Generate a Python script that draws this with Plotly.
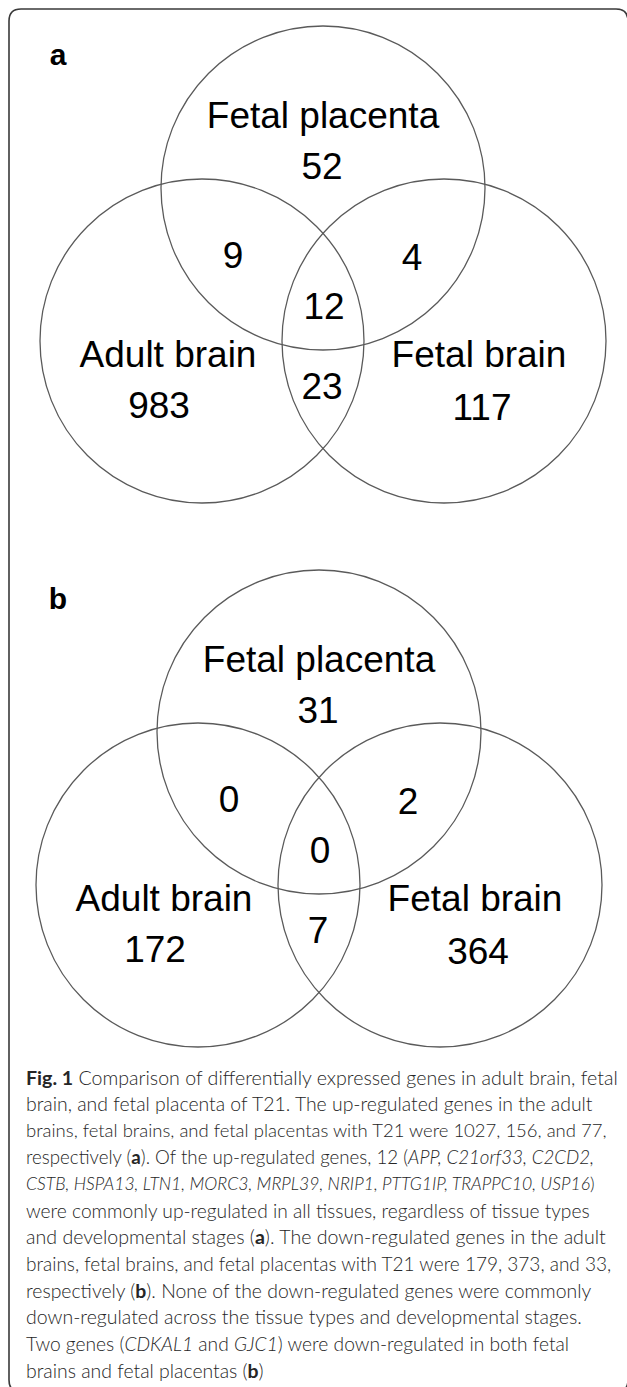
import plotly.graph_objects as go

# ---------------- data ----------------
set_labels = ["Fetal placenta", "Adult brain", "Fetal brain"]
region_names = ["placenta_only", "placenta_adult", "placenta_fetal", "all_three",
                "adult_only", "adult_fetal", "fetal_only"]
up_counts = [52, 9, 4, 12, 983, 23, 117]        # panel a
down_counts = [31, 0, 2, 0, 172, 7, 364]        # panel b
panel_letters = ["a", "b"]

caption_lines = [
    "<b>Fig. 1</b> Comparison of differentially expressed genes in adult brain, fetal",
    "brain, and fetal placenta of T21. The up-regulated genes in the adult",
    "brains, fetal brains, and fetal placentas with T21 were 1027, 156, and 77,",
    "respectively (<b>a</b>). Of the up-regulated genes, 12 (<i>APP, C21orf33, C2CD2,</i>",
    "<i>CSTB, HSPA13, LTN1, MORC3, MRPL39, NRIP1, PTTG1IP, TRAPPC10, USP16</i>)",
    "were commonly up-regulated in all tissues, regardless of tissue types",
    "and developmental stages (<b>a</b>). The down-regulated genes in the adult",
    "brains, fetal brains, and fetal placentas with T21 were 179, 373, and 33,",
    "respectively (<b>b</b>). None of the down-regulated genes were commonly",
    "down-regulated across the tissue types and developmental stages.",
    "Two genes (<i>CDKAL1</i> and <i>GJC1</i>) were down-regulated in both fetal",
    "brains and fetal placentas (<b>b</b>)",
]

# ---------------- styling / layout (pixel space) ----------------
caption_sizes = [19.6, 19.4, 18.5, 18.7, 17.6, 19.2, 19.6, 19.0, 19.4, 19.5, 19.2, 19.4]
W, H = 627, 1387
R = 162
circle_centers = [(323, 188), (202, 341), (444, 341)]   # placenta, adult, fetal (panel a)
label_pos = [(323, 119), (168, 358), (479, 358)]
count_pos = [(322, 170), (233, 259), (412, 261), (324, 310),
             (159, 409), (322, 390), (482, 411)]
letter_pos = (58, 57)
panel_offsets = [(0, 0), (-4, 544)]

fig = go.Figure()
shapes = []

# frame
fl, ft, fr, fb, cr = 9, 9, 628, 1392, 12
frame_path = (f"M {fl},{ft+cr} Q {fl},{ft} {fl+cr},{ft} L {fr-cr},{ft} "
              f"Q {fr},{ft} {fr},{ft+cr} L {fr},{fb-cr} Q {fr},{fb} {fr-cr},{fb} "
              f"L {fl+cr},{fb} Q {fl},{fb} {fl},{fb-cr} Z")
shapes.append(dict(type="path", path=frame_path, xref="x", yref="y",
                   line=dict(color="#3a3a3a", width=1.6), layer="below"))

for p, (dx, dy) in enumerate(panel_offsets):
    counts = up_counts if p == 0 else down_counts
    for (cx, cy) in circle_centers:
        shapes.append(dict(type="circle", xref="x", yref="y",
                           x0=cx + dx - R, x1=cx + dx + R,
                           y0=cy + dy - R, y1=cy + dy + R,
                           line=dict(color="#5a5a5a", width=1.3)))
    fig.add_trace(go.Scatter(
        x=[x + dx for x, _ in label_pos], y=[y + dy for _, y in label_pos],
        text=set_labels, mode="text", textposition="middle center",
        textfont=dict(family="Liberation Sans, Arial", size=37, color="black"),
        hoverinfo="skip"))
    fig.add_trace(go.Scatter(
        x=[x + dx for x, _ in count_pos], y=[y + dy for _, y in count_pos],
        text=[str(c) for c in counts], mode="text", textposition="middle center",
        textfont=dict(family="Liberation Sans, Arial", size=37, color="black"),
        hoverinfo="skip"))
    fig.add_trace(go.Scatter(
        x=[letter_pos[0]], y=[letter_pos[1] + dy],
        text=[f"<b>{panel_letters[p]}</b>"], mode="text", textposition="middle center",
        textfont=dict(family="Liberation Sans, Arial", size=30, color="black"),
        hoverinfo="skip"))

annotations = []
line0, lstep = 1077, 26.65
for i, t in enumerate(caption_lines):
    annotations.append(dict(x=24, y=line0 + i * lstep, xref="x", yref="y",
                            text=t, showarrow=False, xanchor="left", yanchor="middle",
                            font=dict(family="Lato, Open Sans, sans-serif",
                                      size=caption_sizes[i], weight=300,
                                      color="#262626")))

fig.update_layout(
    width=W, height=H, margin=dict(l=0, r=0, t=0, b=0),
    paper_bgcolor="white", plot_bgcolor="white", showlegend=False,
    xaxis=dict(range=[0, W], visible=False, fixedrange=True),
    yaxis=dict(range=[H, 0], visible=False, fixedrange=True),
    shapes=shapes, annotations=annotations,
)
fig.write_html("out.html", config={"displayModeBar": False},
               post_script="document.body.style.margin='0';document.body.style.overflow='hidden';")
